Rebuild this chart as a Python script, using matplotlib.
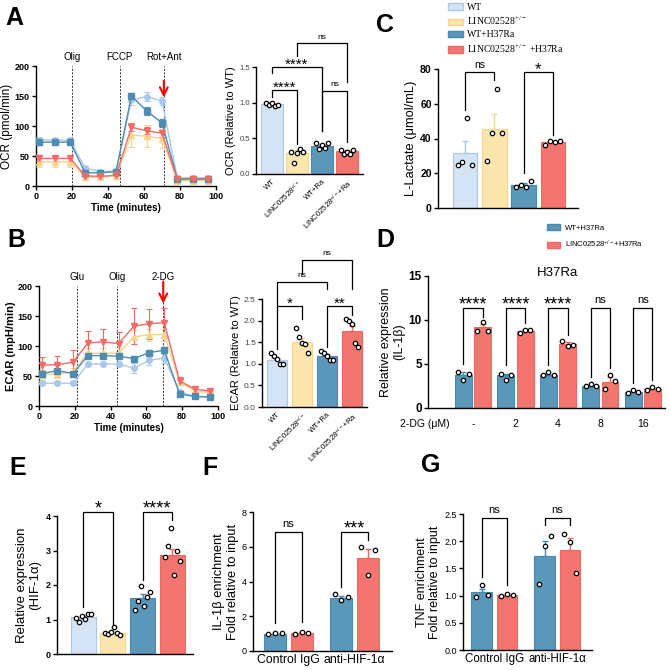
import numpy as np
import matplotlib
matplotlib.use('Agg')
import matplotlib.pyplot as plt
from matplotlib.patches import Patch

plt.rcParams['font.family'] = ['Liberation Sans', 'DejaVu Sans']
plt.rcParams['mathtext.default'] = 'regular'
plt.rcParams['axes.linewidth'] = 1.0

# ---- data -------------------------------------------------------------
groups = ['WT', 'LINC02528$^{+/-}$', 'WT+H37Ra', 'LINC02528$^{+/-}$ +H37Ra']
groups_d = ['WT+H37Ra', 'LINC02528$^{+/-}$+H37Ra']
bar_ticks = ['WT', 'LINC02528$^{+/-}$', 'WT+Ra', 'LINC02528$^{+/-}$+Ra']

# Seahorse time points (minutes)
t_ocr = [1.7, 10.3, 19, 27.3, 35.8, 44.5, 53, 61.5, 70, 78.5, 87, 95.5]
t_ecar = [1.7, 10.3, 19, 27.3, 35.8, 44.5, 53, 61.5, 70, 78.5, 87, 95.5]

# OCR kinetic trace (pmol/min)
ocr_wt = [77, 76, 76, 30, 24, 25, 143, 149, 142, 13, 14, 13]
ocr_linc = [40, 40, 40, 15, 15, 17, 85, 83, 79, 9, 9, 9]
ocr_wtra = [73, 73, 73, 22, 22, 24, 150, 125, 105, 12, 12, 12]
ocr_lincra = [46, 46, 46, 17, 16, 18, 98, 92, 88, 11, 11, 11]
ocr_wt_err = [5, 4, 4, 3, 2, 2, 8, 8, 7, 2, 2, 2]
ocr_linc_err = [8, 8, 8, 3, 3, 3, 20, 18, 16, 2, 2, 2]
ocr_wtra_err = [4, 3, 3, 2, 2, 2, 5, 6, 7, 2, 2, 2]
ocr_lincra_err = [5, 4, 4, 2, 2, 2, 7, 6, 6, 2, 2, 2]
ocr_events = [20, 46.5, 71]
ocr_event_names = ['Olig', 'FCCP', 'Rot+Ant']

# ECAR kinetic trace (mpH/min)
ecar_wt = [38, 38, 38, 70, 70, 70, 63, 76, 80, 24, 16, 15]
ecar_linc = [52, 54, 56, 88, 88, 88, 115, 119, 119, 40, 25, 22]
ecar_wtra = [54, 59, 54, 84, 84, 83, 79, 89, 93, 20, 16, 15]
ecar_lincra = [68, 69, 73, 105, 107, 104, 133, 137, 139, 42, 28, 25]
ecar_wt_err = [3, 3, 3, 3, 3, 3, 8, 8, 8, 3, 2, 2]
ecar_linc_err = [8, 8, 8, 8, 8, 8, 12, 10, 10, 5, 3, 3]
ecar_wtra_err = [4, 10, 4, 4, 3, 3, 3, 3, 5, 3, 2, 2]
ecar_lincra_err = [14, 15, 21, 20, 21, 20, 30, 25, 25, 7, 4, 4]
ecar_events = [21, 43.7, 69.4]
ecar_event_names = ['Glu', 'Olig', '2-DG']

# OCR relative to WT
ocr_rel_mean = [0.98, 0.30, 0.39, 0.32]
ocr_rel_err = [0.01, 0.03, 0.02, 0.01]
ocr_rel_pts = [[1.00, 0.97, 0.99, 0.96, 0.97],
               [0.31, 0.16, 0.29, 0.35, 0.31],
               [0.43, 0.35, 0.40, 0.36, 0.43],
               [0.34, 0.28, 0.31, 0.28, 0.34]]

# ECAR relative to WT
ecar_rel_mean = [1.09, 1.50, 1.19, 1.75]
ecar_rel_err = [0.05, 0.09, 0.04, 0.13]
ecar_rel_pts = [[1.25, 1.17, 1.10, 1.00, 0.99],
                [1.82, 1.63, 1.47, 1.46, 1.26],
                [1.29, 1.26, 1.18, 1.09, 1.09],
                [2.03, 1.98, 1.93, 1.47, 1.38]]

# L-Lactate (umol/mL)
lac_mean = [31.5, 45.5, 13.5, 38.0]
lac_err = [6.8, 8.5, 1.0, 0.5]
lac_pts = [[24.6, 26.5, 51.8, 24.6],
           [27.3, 43.2, 68.5, 43.2],
           [11.9, 13.5, 12.3, 15.5],
           [36.5, 38.8, 37.8, 38.4]]

# IL-1b expression vs 2-DG dose
dg_labels = ['-', '2', '4', '8', '16']
il1b_wt_mean = [3.8, 3.7, 3.8, 2.5, 1.8]
il1b_wt_err = [0.3, 0.2, 0.1, 0.1, 0.1]
il1b_lincra_mean = [9.2, 8.8, 7.3, 3.0, 2.2]
il1b_lincra_err = [0.4, 0.1, 0.2, 0.5, 0.1]
il1b_wt_pts = [[4.1, 3.2, 3.9], [3.9, 3.2, 3.8], [3.7, 4.1, 3.8], [2.5, 2.7, 2.5], [1.7, 2.0, 1.8]]
il1b_lincra_pts = [[8.8, 9.8, 8.8], [8.5, 8.9, 8.9], [7.6, 7.0, 7.2], [2.2, 3.7, 3.1], [2.0, 2.4, 2.2]]

# HIF-1a expression
hif_mean = [1.07, 0.62, 1.63, 2.87]
hif_err = [0.04, 0.03, 0.10, 0.18]
hif_pts = [[1.05, 0.93, 1.10, 1.02, 1.16, 1.17],
           [0.62, 0.58, 0.65, 0.78, 0.62, 0.55],
           [1.28, 1.54, 1.98, 1.40, 1.64, 1.80],
           [2.82, 3.13, 3.64, 2.30, 2.99, 2.70]]

# ChIP enrichment
chip_labels = ['Control IgG', 'anti-HIF-1α']
il1b_chip_wt = [1.00, 3.07]
il1b_chip_wt_err = [0.02, 0.08]
il1b_chip_linc = [1.05, 5.36]
il1b_chip_linc_err = [0.04, 0.50]
il1b_chip_wt_pts = [[0.95, 1.02, 1.02], [3.26, 2.92, 3.10]]
il1b_chip_linc_pts = [[1.00, 1.12, 1.02], [6.00, 4.40, 5.80]]

tnf_chip_wt = [1.07, 1.73]
tnf_chip_wt_err = [0.06, 0.28]
tnf_chip_linc = [1.01, 1.84]
tnf_chip_linc_err = [0.01, 0.21]
tnf_chip_wt_pts = [[0.98, 1.19, 1.02], [1.21, 1.91, 2.10]]
tnf_chip_linc_pts = [[1.00, 1.03, 1.01], [2.13, 1.99, 1.41]]

# ---- style -------------------------------------------------------------
fills = ['#d4e4f5', '#fde6ae', '#5a97b8', '#f27570']
edges = ['#a9c8ec', '#f8d58f', '#4a89ad', '#ee6964']
lines = ['#a9c8ec', '#f9d38b', '#4e8db1', '#f26b66']
markers = ['o', '^', 's', 'v']

W, H = 671, 670
fig = plt.figure(figsize=(W / 100, H / 100), dpi=100)


def add_ax(l, r, t, b, tick_fs=6.5, bold=False):
    ax = fig.add_axes([l / W, 1 - b / H, (r - l) / W, (b - t) / H])
    ax.spines['top'].set_visible(False)
    ax.spines['right'].set_visible(False)
    ax.tick_params(length=3, width=1, labelsize=tick_fs, pad=1.5)
    ax._bold = bold
    return ax


def finish_ticks(ax, x=True):
    if not ax._bold:
        return
    labs = ax.get_yticklabels() + (ax.get_xticklabels() if x else [])
    for lab in labs:
        lab.set_fontweight('bold')


def bars(ax, xs, means, errs, pts, fc, ec, width, spread=0.3):
    ax.bar(xs, means, width, color=fc, edgecolor=ec, lw=0.8, zorder=2)
    for x, m, e, p, c in zip(xs, means, errs, pts, ec):
        ax.errorbar(x, m, yerr=[[0], [e]], color=c, capsize=2.5, lw=1, capthick=1, zorder=2.5)
        ox = np.linspace(-width * spread, width * spread, len(p))
        ax.scatter(x + ox, p, s=10, facecolor='white', edgecolor='black', lw=0.9, zorder=3, clip_on=False)


def bracket(ax, x1, x2, y, yl, yr, txt, fs=8):
    ax.plot([x1, x1, x2, x2], [yl, y, y, yr], color='black', lw=0.9, clip_on=False, zorder=4)
    dy = -1.2 if '*' in txt else 3.5
    ax.annotate(txt, ((x1 + x2) / 2, y), xytext=(0, dy), textcoords='offset points',
                ha='center', va='baseline', fontsize=fs, annotation_clip=False)


def panel_letter(x, y, s):
    fig.text(x / W, 1 - y / H, s, fontsize=18, fontweight='bold', va='top', ha='left')


def seahorse(ax, t, ys, es, events, names):
    for y, e, c, m in zip(ys, es, lines, markers):
        ax.errorbar(t, y, yerr=e, color=c, marker=m, ms=4, lw=1, capsize=2, elinewidth=0.8,
                    capthick=0.8, zorder=3, clip_on=False)
    for ev, nm in zip(events, names):
        ax.axvline(ev, color='#333333', lw=0.7, ls=(0, (2, 1.5)), zorder=1)
        ax.text(ev, 206, nm, ha='center', va='bottom', fontsize=7, clip_on=False)
    ax.set_xlim(0, 100)
    ax.set_ylim(0, 200)
    ax.set_xticks(range(0, 101, 20))
    ax.set_yticks(range(0, 201, 50))
    ax.set_xlabel('Time (minutes)', fontsize=7, fontweight='bold', labelpad=1)
    finish_ticks(ax)


# ---- A: OCR trace -----------------------------------------------------------
axA = add_ax(36, 216, 66, 186, tick_fs=6.5, bold=True)
seahorse(axA, t_ocr, [ocr_wt, ocr_linc, ocr_wtra, ocr_lincra],
         [ocr_wt_err, ocr_linc_err, ocr_wtra_err, ocr_lincra_err], ocr_events, ocr_event_names)
axA.set_ylabel('OCR (pmol/min)', fontsize=8.5, labelpad=1)
axA.annotate('', xy=(71, 143), xytext=(71, 180), annotation_clip=False,
             arrowprops=dict(arrowstyle='->', color='red', lw=1.5, mutation_scale=14))

# ---- A: OCR relative bars ----------------------------------------------------
axA2 = add_ax(256, 363, 67, 174, tick_fs=5.5)
x4 = np.arange(4)
bars(axA2, x4, ocr_rel_mean, ocr_rel_err, ocr_rel_pts, fills, edges, 0.85)
axA2.set_xlim(-0.64, 3.64)
axA2.set_ylim(0, 1.5)
axA2.set_yticks([0, 0.5, 1.0, 1.5])
axA2.set_yticklabels(['0.0', '0.5', '1.0', '1.5'], color='#444444')
axA2.set_xticks(x4)
axA2.set_xticklabels(bar_ticks, rotation=45, ha='right', rotation_mode='anchor', fontsize=5.5)
axA2.tick_params(axis='x', length=0, pad=3)
axA2.set_ylabel('OCR (Relative to WT)', fontsize=8, labelpad=2)
bracket(axA2, 0, 1, 1.18, 1.08, 0.42, '****', fs=11)
bracket(axA2, 0, 2, 1.50, 1.41, 0.60, '****', fs=11)
bracket(axA2, 2, 3, 1.17, 0.60, 0.45, 'ns', fs=6)
bracket(axA2, 1, 3, 1.83, 1.65, 1.29, 'ns', fs=6)

# ---- B: ECAR trace -----------------------------------------------------------
axB = add_ax(39, 218, 286, 406, tick_fs=6.5, bold=True)
seahorse(axB, t_ecar, [ecar_wt, ecar_linc, ecar_wtra, ecar_lincra],
         [ecar_wt_err, ecar_linc_err, ecar_wtra_err, ecar_lincra_err], ecar_events, ecar_event_names)
axB.set_ylabel('ECAR (mpH/min)', fontsize=8, fontweight='bold', labelpad=1)
axB.annotate('', xy=(69.4, 166), xytext=(69.4, 212), annotation_clip=False,
             arrowprops=dict(arrowstyle='->', color='red', lw=1.5, mutation_scale=14))

# ---- B: ECAR relative bars ----------------------------------------------------
axB2 = add_ax(262, 367, 299, 407, tick_fs=6)
bars(axB2, x4, ecar_rel_mean, ecar_rel_err, ecar_rel_pts, fills, edges, 0.83)
axB2.set_xlim(-0.6, 3.6)
axB2.set_ylim(0, 2.5)
axB2.set_yticks([0, 0.5, 1.0, 1.5, 2.0, 2.5])
axB2.set_yticklabels(['0.0', '0.5', '1.0', '1.5', '2.0', '2.5'], color='#444444')
axB2.set_xticks(x4)
axB2.set_xticklabels(bar_ticks, rotation=45, ha='right', rotation_mode='anchor', fontsize=5.5)
axB2.tick_params(axis='x', length=0, pad=3)
axB2.set_ylabel('ECAR (Relative to WT)', fontsize=8, labelpad=2)
bracket(axB2, 0, 1, 2.34, 1.35, 2.03, '*', fs=11)
bracket(axB2, 0, 2, 2.89, 2.34, 2.72, 'ns', fs=6)
bracket(axB2, 2, 3, 2.34, 1.40, 2.13, '**', fs=11)
bracket(axB2, 1, 3, 3.40, 3.07, 2.72, 'ns', fs=6)

# ---- C: L-Lactate ------------------------------------------------------------
axC = add_ax(438, 578, 69, 208, tick_fs=7.5, bold=True)
bars(axC, x4, lac_mean, lac_err, lac_pts, fills, edges, 0.84)
axC.set_xlim(-0.92, 3.86)
axC.set_ylim(0, 80)
axC.set_yticks(range(0, 81, 20))
axC.set_xticks([])
axC.set_ylabel('L-Lactate (μmol/mL)', fontsize=9.3, labelpad=2)
finish_ticks(axC)
bracket(axC, 0, 1, 78, 56.5, 73.5, 'ns', fs=7.5)
bracket(axC, 2, 3, 78, 20, 42, '*', fs=12)
handles = [Patch(facecolor=f, edgecolor=e) for f, e in zip(fills, edges)]
fig.legend(handles, groups, loc='upper left', bbox_to_anchor=(442 / W, 1 + 3 / H), frameon=False,
           prop={'family': 'Liberation Serif', 'size': 7}, handlelength=1.6, handleheight=0.7,
           labelspacing=0.32, handletextpad=0.4, borderpad=0.1)

# ---- D: IL-1b vs 2-DG ------------------------------------------------------
axD = add_ax(428, 665, 276, 408, tick_fs=8.5, bold=True)
x5 = np.arange(5)
off = 0.225
bars(axD, x5 - off, il1b_wt_mean, il1b_wt_err, il1b_wt_pts, [fills[2]] * 5, [edges[2]] * 5, 0.4)
bars(axD, x5 + off, il1b_lincra_mean, il1b_lincra_err, il1b_lincra_pts, [fills[3]] * 5, [edges[3]] * 5, 0.4)
axD.set_xlim(-1.06, 4.52)
axD.set_ylim(0, 15)
axD.set_yticks([0, 5, 10, 15])
axD.set_xticks(x5)
axD.set_xticklabels(dg_labels, fontsize=7.5)
axD.tick_params(axis='x', length=0, pad=8)
axD.text(-1.73, -1.85, '2-DG (μM)', fontsize=7.5, ha='left', va='center', clip_on=False)
axD.set_ylabel('Relative expression\n(IL-1β)', fontsize=9, labelpad=2)
axD.text(2.0, 15.3, 'H37Ra', ha='center', va='center', fontsize=9.5)
finish_ticks(axD, x=False)
d_texts = ['****', '****', '****', 'ns', 'ns']
d_left = [5.0, 4.9, 4.9, 3.5, 2.8]
d_right = [10.3, 9.7, 8.3, 4.5, 3.2]
for i in range(5):
    bracket(axD, i - off, i + off, 11.4, d_left[i], d_right[i], d_texts[i],
            fs=13 if d_texts[i] != 'ns' else 8)
fig.legend(handles[2:], groups_d, loc='upper left', bbox_to_anchor=(542 / W, 1 - 219 / H), frameon=False,
           prop={'size': 5.5}, handlelength=1.7, handleheight=0.8, labelspacing=0.9,
           handletextpad=0.6, borderpad=0.2)

# ---- E: HIF-1a --------------------------------------------------------------
axE = add_ax(57, 193, 516, 654, tick_fs=6.5, bold=True)
bars(axE, x4, hif_mean, hif_err, hif_pts, fills, edges, 0.84)
axE.set_xlim(-0.88, 3.7)
axE.set_ylim(0, 4)
axE.set_yticks(range(0, 5))
axE.set_xticks([])
axE.set_ylabel('Relative expression\n(HIF-1α)', fontsize=9.5, labelpad=3)
finish_ticks(axE)
bracket(axE, 0, 1, 4.13, 1.37, 0.84, '*', fs=13)
bracket(axE, 2, 3, 4.13, 2.14, 3.88, '****', fs=13)

# ---- F: IL-1b ChIP ------------------------------------------------------------
axF = add_ax(253, 392, 512, 651, tick_fs=6.5)
x2 = np.arange(2)
bars(axF, x2 - 0.2, il1b_chip_wt, il1b_chip_wt_err, il1b_chip_wt_pts, [fills[2]] * 2, [edges[2]] * 2, 0.33)
bars(axF, x2 + 0.2, il1b_chip_linc, il1b_chip_linc_err, il1b_chip_linc_pts, [fills[3]] * 2, [edges[3]] * 2, 0.33)
axF.set_xlim(-0.53, 1.56)
axF.set_ylim(0, 8)
axF.set_yticks(range(0, 9, 2))
axF.set_xticks(x2)
axF.set_xticklabels(chip_labels, fontsize=8.8)
axF.tick_params(axis='x', length=0, pad=2)
axF.set_ylabel('IL-1β enrichment\nFold relative to input', fontsize=9.3, labelpad=2)
bracket(axF, -0.2, 0.2, 6.85, 1.6, 1.65, 'ns', fs=8)
bracket(axF, 0.8, 1.2, 6.85, 3.7, 6.4, '***', fs=13)

# ---- G: TNF ChIP ------------------------------------------------------------
axG = add_ax(463, 592, 514, 650, tick_fs=6.5)
bars(axG, x2 - 0.2, tnf_chip_wt, tnf_chip_wt_err, tnf_chip_wt_pts, [fills[2]] * 2, [edges[2]] * 2, 0.33)
bars(axG, x2 + 0.2, tnf_chip_linc, tnf_chip_linc_err, tnf_chip_linc_pts, [fills[3]] * 2, [edges[3]] * 2, 0.33)
axG.set_xlim(-0.5, 1.55)
axG.set_ylim(0, 2.5)
axG.set_yticks([0, 0.5, 1.0, 1.5, 2.0, 2.5])
axG.set_yticklabels(['0.0', '0.5', '1.0', '1.5', '2.0', '2.5'])
axG.set_xticks(x2)
axG.set_xticklabels(chip_labels, fontsize=8.3)
axG.tick_params(axis='x', length=0, pad=2)
axG.set_ylabel('TNF enrichment\nFold relative to input', fontsize=9, labelpad=2)
bracket(axG, -0.2, 0.2, 2.42, 1.35, 1.2, 'ns', fs=8)
bracket(axG, 0.8, 1.2, 2.42, 2.3, 2.3, 'ns', fs=8)

# ---- panel letters ------------------------------------------------------------
panel_letter(5, 6, 'A')
panel_letter(7, 228, 'B')
panel_letter(376, 13, 'C')
panel_letter(376, 228, 'D')
panel_letter(9, 456, 'E')
panel_letter(202, 456, 'F')
panel_letter(421, 453, 'G')

fig.savefig('out.png', dpi=100)
